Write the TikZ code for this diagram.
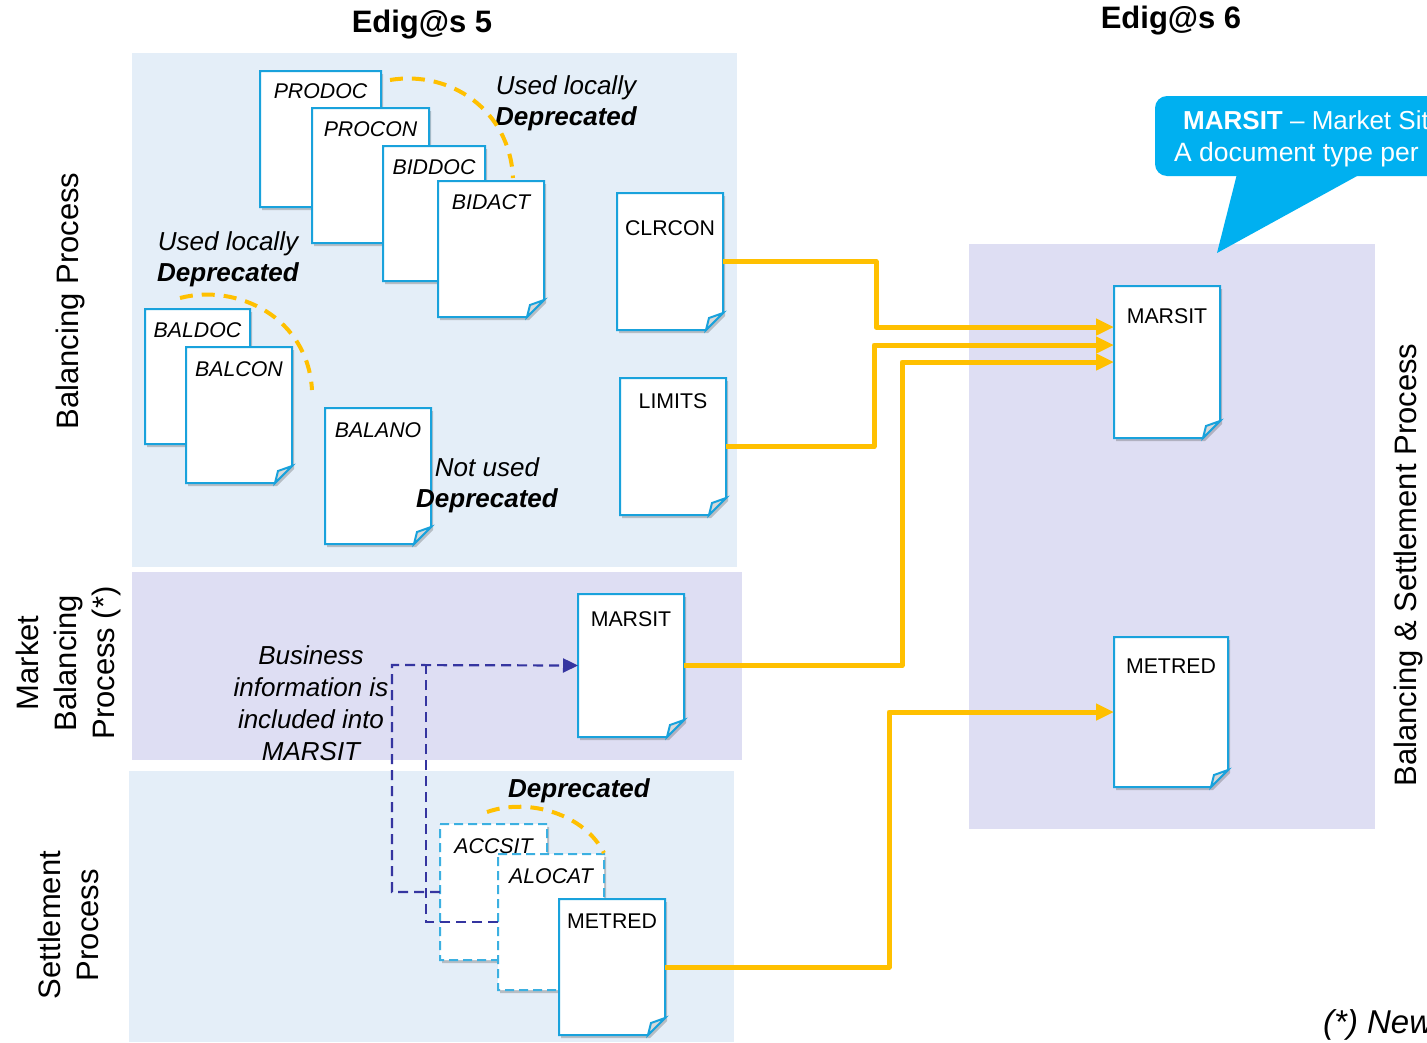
\documentclass[tikz,border=0pt]{standalone}
\usepackage{fontspec}
\setmainfont{Liberation Sans}
\usetikzlibrary{arrows.meta,shadows}
\definecolor{panelblue}{HTML}{E4EEF8}
\definecolor{panellav}{HTML}{DEDEF3}
\definecolor{docblue}{HTML}{19A2DC}
\definecolor{ygold}{HTML}{FFC000}
\definecolor{dblue}{HTML}{3535A0}
\definecolor{calloutblue}{HTML}{00B0F0}
\newcommand\mydoc[8][]{%
  \node[docframe, minimum width={#5-#3}, minimum height={#6-#4}] (#2) at ({(#3+#5)/2},{(#4+#6)/2}) {};
  \filldraw[docline, fill=white, docshadow, #1] (#2.north west) -- (#2.north east) -- ([yshift=17pt]#2.south east) -- ([xshift=-17pt]#2.south east) -- (#2.south west) -- cycle;
  \filldraw[docline, fill=gray!30] ([yshift=17pt]#2.south east) -- ([xshift=-17pt]#2.south east) -- ([xshift=-14pt,yshift=12pt]#2.south east) -- cycle;
  \node[doclabel] at ([yshift=-#7pt]#2.north) {#8};
}
\begin{document}
\begin{tikzpicture}[x=1pt,y=-1pt,
  docframe/.style={rectangle, inner sep=0pt, outer sep=0pt},
  docline/.style={draw=docblue, line width=2pt, line join=miter},
  docshadow/.style={drop shadow={shadow xshift=2pt, shadow yshift=-3pt, opacity=0.3, fill=black!70}},
  doclabel/.style={font=\fontsize{21.3}{25}\selectfont, inner sep=0pt},
  dashdoc/.style={dash pattern=on 9pt off 5pt, draw=docblue!85},
  ylink/.style={draw=ygold, line width=5pt, line join=round, -{Triangle[length=18pt,width=16pt]}},
  yarc/.style={draw=ygold, line width=4pt, dash pattern=on 13pt off 9pt},
  blink/.style={draw=dblue, line width=2.2pt, dash pattern=on 10pt off 6pt},
  note/.style={font=\itshape\fontsize{26}{31}\selectfont, align=center, inner sep=0pt},
  side/.style={font=\fontsize{31}{38}\selectfont, align=center, rotate=90, inner sep=0pt},
  title/.style={font=\bfseries\fontsize{31}{36}\selectfont, inner sep=0pt}
]
\useasboundingbox (0,0) rectangle (1427,1042);
\clip (0,0) rectangle (1427,1042);
\fill[white] (0,0) rectangle (1427,1042);

% panels
\fill[panelblue] (132,53) rectangle (737,567);
\fill[panellav] (132,572) rectangle (742,760);
\fill[panelblue] (129,771) rectangle (734,1042);
\fill[panellav] (969,244) rectangle (1375,829);

% titles
\node[title] (t5) at (422,25) {Edig@s 5};
\node[title] (t6) at (1171,21) {Edig@s 6};

% side labels
\node[side] (lbp) at (70,301) {Balancing Process};
\node[side] (lmbp) at (68,663) {Market\\Balancing\\Process (*)};
\node[side] (lsp) at (68,925) {Settlement\\Process};
\node[side] (lbsp) at (1408,565) {Balancing \& Settlement Process};

% callout
\fill[calloutblue, rounded corners=12pt] (1155,96) rectangle (1470,176);
\fill[calloutblue] (1238,170) -- (1217,253) -- (1368,170) -- cycle;
\node[anchor=base west, text=white, font=\fontsize{26}{31}\selectfont, inner sep=0pt] (co1) at (1183,129) {\textbf{MARSIT} – Market Situation};
\node[anchor=base west, text=white, font=\fontsize{26.5}{31}\selectfont, inner sep=0pt] (co2) at (1174,161) {A document type per business};

% balancing docs
\mydoc{prodoc}{260}{71}{381}{207}{20}{\itshape PRODOC}
\mydoc{procon}{312}{108}{429}{243}{21}{\itshape PROCON}
\mydoc{biddoc}{383}{146}{485}{281}{21}{\itshape BIDDOC}
\mydoc{bidact}{438}{181}{544}{317}{21}{\itshape BIDACT}
\mydoc{baldoc}{145}{309}{250}{444}{21}{\itshape BALDOC}
\mydoc{balcon}{186}{347}{292}{483}{22}{\itshape BALCON}
\mydoc{balano}{325}{408}{431}{544}{22}{\itshape BALANO}
\mydoc{clrcon}{617}{193}{723}{330}{35}{CLRCON}
\mydoc{limits}{620}{378}{726}{515}{23}{LIMITS}

% market balancing
\mydoc{marsitm}{578}{594}{684}{737}{25}{MARSIT}

% settlement
\mydoc[dashdoc]{accsit}{440}{824}{547}{960}{22}{\itshape ACCSIT}
\mydoc[dashdoc]{alocat}{498}{854}{604}{990}{22}{\itshape ALOCAT}
\mydoc{metredb}{559}{899}{665}{1035}{22}{METRED}

% edig@s 6
\mydoc{marsitr}{1114}{286}{1220}{438}{30}{MARSIT}
\mydoc{metredr}{1114}{637}{1228}{787}{29}{METRED}

% notes
\node[note] (n1) at (566,103) {Used locally\\\textbf{Deprecated}};
\node[note] (n2) at (228,259) {Used locally\\\textbf{Deprecated}};
\node[note] (n3) at (487,485) {Not used\\\textbf{Deprecated}};
\node[note] (n4) at (579,791) {\textbf{Deprecated}};
\node[note, font=\itshape\fontsize{26}{32}\selectfont] (n5) at (311,703) {Business\\information is\\included into\\MARSIT};
\node[anchor=base west, font=\itshape\fontsize{33}{38}\selectfont, inner sep=0pt] (n6) at (1323,1033) {(*) New process};

% yellow dashed arcs
\draw[yarc] (390,80) .. controls (450,70) and (510,110) .. (513,178);
\draw[yarc] (180,298) .. controls (238,283) and (308,318) .. (312,390);
\draw[yarc] (487,812) .. controls (530,797) and (585,815) .. (604,853);

% blue dashed connectors
\coordinate (bj1) at (392,665);
\coordinate (bj2) at (426,665);
\draw[blink] (alocat.west) -| (bj2);
\draw[blink, -{Triangle[length=15pt,width=14pt]}] (accsit.west) -| (bj1) -- (marsitm.west);

% yellow connectors
\draw[ylink] (clrcon.east) -- ++(153,0) |- ([yshift=35pt]marsitr.west);
\draw[ylink] (limits.east) -- ++(148,0) |- ([yshift=17pt]marsitr.west);
\draw[ylink] (marsitm.east) -- ++(218,0) |- (marsitr.west);
\draw[ylink] (metredb.east) -- ++(224,0) |- (metredr.west);
\end{tikzpicture}
\end{document}
